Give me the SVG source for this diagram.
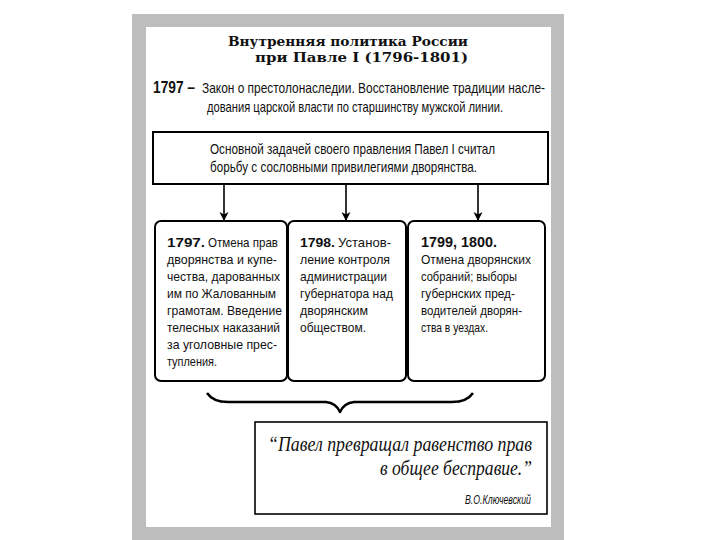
<svg xmlns="http://www.w3.org/2000/svg" width="720" height="540" viewBox="0 0 720 540">
<defs>
<marker id="ah" markerUnits="userSpaceOnUse" markerWidth="10" markerHeight="13" refX="8" refY="6" orient="auto">
<path d="M0,1.5 L9,6 L0,10.5 L2.5,6 Z" fill="#000"/>
</marker>
<style>
.t{font-family:"Liberation Sans",Arial,sans-serif;font-size:13.5px;fill:#111}
.b{font-weight:bold}
.ti{font-family:"DejaVu Serif","Liberation Serif",serif;font-weight:bold;font-size:13.5px;fill:#111}
.q{font-family:"Liberation Serif","Times New Roman",serif;font-style:italic;font-size:20px;fill:#111}
.box{fill:#fff;stroke:#000;stroke-width:2}
.con{fill:none;stroke:#000;stroke-width:1.6}
</style>
</defs>
<rect x="0" y="0" width="720" height="540" fill="#fff"/>
<rect x="132" y="14" width="432" height="526" fill="#bdbdbd"/>
<rect x="146" y="27" width="405" height="500" fill="#fff"/>

<g id="title">
<text class="ti" x="228" y="45.5" textLength="240" lengthAdjust="spacingAndGlyphs">Внутренняя политика России</text>
<text class="ti" x="255" y="62" textLength="213" lengthAdjust="spacingAndGlyphs">при Павле I (1796-1801)</text>
</g>

<g id="intro">
<text class="t b" style="font-size:16px" x="153" y="93" textLength="42" lengthAdjust="spacingAndGlyphs">1797 –</text>
<text class="t" style="font-size:15px" x="202" y="93" textLength="343" lengthAdjust="spacingAndGlyphs">Закон о престолонаследии. Восстановление традиции насле-</text>
<text class="t" style="font-size:15px" x="207" y="112" textLength="296" lengthAdjust="spacingAndGlyphs">дования царской власти по старшинству мужской линии.</text>
</g>

<g id="main">
<rect class="box" x="153" y="132" width="395" height="52"/>
<text class="t" style="font-size:14.5px" x="210" y="154" textLength="285" lengthAdjust="spacingAndGlyphs">Основной задачей своего правления Павел I считал</text>
<text class="t" style="font-size:14.5px" x="210" y="172" textLength="267" lengthAdjust="spacingAndGlyphs">борьбу с сословными привилегиями дворянства.</text>
</g>

<g id="connectors">
<line class="con" x1="224" y1="184" x2="224" y2="220" marker-end="url(#ah)"/>
<line class="con" x1="346" y1="184" x2="346" y2="220" marker-end="url(#ah)"/>
<line class="con" x1="478" y1="184" x2="478" y2="220" marker-end="url(#ah)"/>
<path d="M207,393 Q213,402 228,402 L326,402 Q336,403 340,412 Q344,403 354,402 L452,402 Q467,402 473,393" fill="none" stroke="#000" stroke-width="2.5" stroke-linejoin="round"/>
</g>

<g id="box1">
<rect class="box" x="155" y="221" width="132" height="160" rx="6"/>
<text class="t b" x="167" y="247" textLength="38" lengthAdjust="spacingAndGlyphs">1797.</text>
<text class="t" x="208" y="247" textLength="70" lengthAdjust="spacingAndGlyphs">Отмена прав</text>
<text class="t" x="167" y="264" textLength="110" lengthAdjust="spacingAndGlyphs">дворянства и купе-</text>
<text class="t" x="167" y="281" textLength="113" lengthAdjust="spacingAndGlyphs">чества, дарованных</text>
<text class="t" x="167" y="298" textLength="109" lengthAdjust="spacingAndGlyphs">им по Жалованным</text>
<text class="t" x="167" y="315" textLength="115" lengthAdjust="spacingAndGlyphs">грамотам. Введение</text>
<text class="t" x="167" y="332" textLength="113" lengthAdjust="spacingAndGlyphs">телесных наказаний</text>
<text class="t" x="167" y="349" textLength="110" lengthAdjust="spacingAndGlyphs">за уголовные прес-</text>
<text class="t" x="167" y="366" textLength="50" lengthAdjust="spacingAndGlyphs">тупления.</text>
</g>

<g id="box2">
<rect class="box" x="288" y="221" width="118" height="160" rx="6"/>
<text class="t b" x="300" y="247" textLength="35" lengthAdjust="spacingAndGlyphs">1798.</text>
<text class="t" x="338" y="247" textLength="53" lengthAdjust="spacingAndGlyphs">Установ-</text>
<text class="t" x="300" y="264" textLength="90" lengthAdjust="spacingAndGlyphs">ление контроля</text>
<text class="t" x="300" y="281" textLength="87" lengthAdjust="spacingAndGlyphs">администрации</text>
<text class="t" x="300" y="298" textLength="93" lengthAdjust="spacingAndGlyphs">губернатора над</text>
<text class="t" x="300" y="315" textLength="68" lengthAdjust="spacingAndGlyphs">дворянским</text>
<text class="t" x="300" y="332" textLength="66" lengthAdjust="spacingAndGlyphs">обществом.</text>
</g>

<g id="box3">
<rect class="box" x="408" y="221" width="137" height="160" rx="6"/>
<text class="t b" style="font-size:14.5px" x="421" y="247" textLength="76" lengthAdjust="spacingAndGlyphs">1799, 1800.</text>
<text class="t" x="421" y="264" textLength="110" lengthAdjust="spacingAndGlyphs">Отмена дворянских</text>
<text class="t" x="421" y="281" textLength="96" lengthAdjust="spacingAndGlyphs">собраний; выборы</text>
<text class="t" x="421" y="298" textLength="94" lengthAdjust="spacingAndGlyphs">губернских пред-</text>
<text class="t" x="421" y="315" textLength="101" lengthAdjust="spacingAndGlyphs">водителей дворян-</text>
<text class="t" x="421" y="332" textLength="67" lengthAdjust="spacingAndGlyphs">ства в уездах.</text>
</g>

<g id="quote">
<rect x="255" y="422" width="292" height="92" fill="#fff" stroke="#000" stroke-width="1.6"/>
<text class="q" x="268" y="451" textLength="264" lengthAdjust="spacingAndGlyphs">“Павел превращал равенство прав</text>
<text class="q" x="380" y="475" textLength="152" lengthAdjust="spacingAndGlyphs">в общее бесправие.”</text>
<text class="t" style="font-style:italic;font-size:12.5px" x="465" y="504" textLength="66" lengthAdjust="spacingAndGlyphs">В.О.Ключевский</text>
</g>
</svg>
